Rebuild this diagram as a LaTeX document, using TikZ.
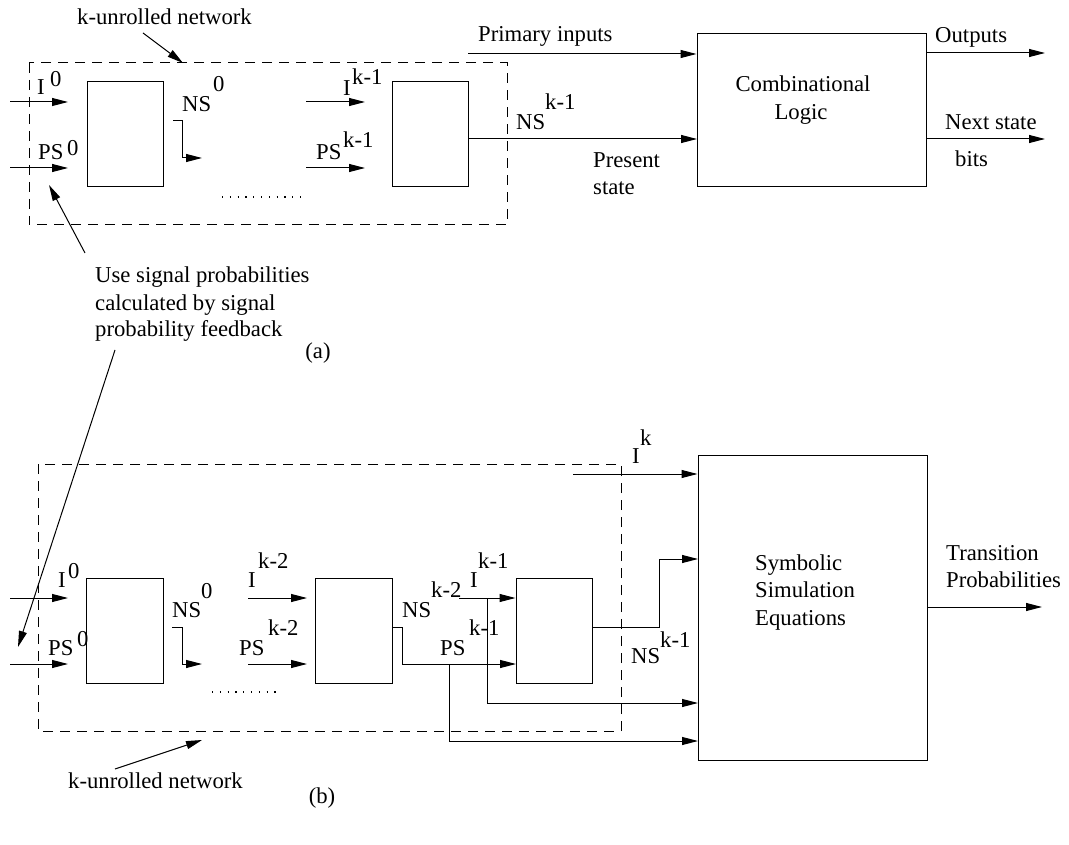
\documentclass[tikz,border=0pt]{standalone}
\usepackage{fontspec}
\setmainfont{Liberation Serif}
\usetikzlibrary{arrows.meta}
\begin{document}
\begin{tikzpicture}[x=1pt,y=-1pt,
  txt/.style={anchor=base west,inner sep=0pt,font=\fontsize{22.7}{27}\selectfont},
  txtc/.style={anchor=base,inner sep=0pt,font=\fontsize{22.7}{27}\selectfont},
  blk/.style={draw,line width=1pt,inner sep=0pt},
  conn/.style={line width=1pt},
  arr/.style={conn,-{Triangle[length=16pt,width=8pt]}},
  dbox/.style={line width=1pt,dash pattern=on 10pt off 7pt},
  dotl/.style={line width=1.2pt,dash pattern=on 1.2pt off 6.6pt}]
\useasboundingbox (0,0) rectangle (1069,845);

% ================= (a) =================
\draw[dbox] (29,63) rectangle (507,225);
\node[blk,minimum width=76pt,minimum height=105pt] (a1) at (125,134.5) {};
\node[blk,minimum width=76pt,minimum height=105pt] (a2) at (430,134.5) {};
\node[blk,minimum width=229pt,minimum height=153pt] (comb) at (811.5,110.5) {};

\node[txt] (ka) at (77,25) {k-unrolled network};
\coordinate (ka-s) at (143,33);
\coordinate (ka-e) at (183,63);
\draw[arr] (ka-s) -- (ka-e);

\coordinate (a-i0s) at (10,102);  \coordinate (a-i0e) at (68,102);
\coordinate (a-p0s) at (10,168);  \coordinate (a-p0e) at (68,168);
\draw[arr] (a-i0s) -- (a-i0e);
\draw[arr] (a-p0s) -- (a-p0e);
\node[txt] (a-I0) at (37,95) {I};
\node[txt] (a-I0s) at (50,87) {0};
\node[txt] (a-PS0) at (38,160) {PS};
\node[txt] (a-PS0s) at (67,156) {0};

\coordinate (a-n0s) at (173,121); \coordinate (a-n0e) at (202,158);
\draw[arr] (a-n0s) -- ++(9,0) |- (a-n0e);
\node[txt] (a-NS0) at (182,112) {NS};
\node[txt] (a-NS0s) at (213,92) {0};

\coordinate (a-d1) at (222,197); \coordinate (a-d2) at (302,197);
\draw[dotl] (a-d1) -- (a-d2);

\coordinate (a-iks) at (306,102); \coordinate (a-ike) at (365,102);
\coordinate (a-pks) at (306,168); \coordinate (a-pke) at (365,168);
\draw[arr] (a-iks) -- (a-ike);
\draw[arr] (a-pks) -- (a-pke);
\node[txt] (a-Ik) at (343,96) {I};
\node[txt] (a-Iks) at (352,85) {k-1};
\node[txt] (a-PSk) at (316,160) {PS};
\node[txt] (a-PSks) at (343,148) {k-1};

\coordinate (comb-ps) at (697,139);
\draw[arr] (a2.east |- comb-ps) -- (comb-ps);
\node[txt] (a-NSk) at (516,130) {NS};
\node[txt] (a-NSks) at (545,110) {k-1};
\node[txt] (pres1) at (593,168) {Present};
\node[txt] (pres2) at (593,195) {state};

\coordinate (pi-s) at (468,54);
\draw[arr] (pi-s) -- (comb.west |- pi-s);
\node[txt] (pi) at (478,42) {Primary inputs};

\node[txtc] (comb1) at (803,92) {Combinational};
\node[txtc] (comb2) at (801,120) {Logic};

\coordinate (out-e) at (1045,53);
\coordinate (ns-e) at (1045,139);
\draw[arr] (comb.east |- out-e) -- (out-e);
\draw[arr] (comb.east |- ns-e) -- (ns-e);
\node[txt] (outl) at (935,43) {Outputs};
\node[txt] (nsl1) at (945,130) {Next state};
\node[txt] (nsl2) at (955,167) {bits};

% annotation
\node[txt] (use1) at (95,283) {Use signal probabilities};
\node[txt] (use2) at (95,310) {calculated by signal};
\node[txt] (use3) at (95,337) {probability feedback};
\coordinate (up-s) at (85,253); \coordinate (up-e) at (49,185);
\draw[arr] (up-s) -- (up-e);
\coordinate (dn-s) at (115,350); \coordinate (dn-e) at (18,647);
\draw[arr] (dn-s) -- (dn-e);

\node[txtc] (capa) at (318,358) {(a)};

% ================= (b) =================
\draw[dbox] (38,464) rectangle (621,731);
\node[blk,minimum width=77pt,minimum height=105pt] (b1) at (124.5,630.5) {};
\node[blk,minimum width=77pt,minimum height=105pt] (b2) at (353.5,630.5) {};
\node[blk,minimum width=76pt,minimum height=105pt] (b3) at (554,630.5) {};
\node[blk,minimum width=229pt,minimum height=305pt] (sym) at (812.5,607.5) {};

\coordinate (b-i0s) at (10,598);  \coordinate (b-i0e) at (68,598);
\coordinate (b-p0s) at (10,664);  \coordinate (b-p0e) at (68,664);
\draw[arr] (b-i0s) -- (b-i0e);
\draw[arr] (b-p0s) -- (b-p0e);
\node[txt] (b-I0) at (58,587) {I};
\node[txt] (b-I0s) at (68,578) {0};
\node[txt] (b-PS0) at (48,655) {PS};
\node[txt] (b-PS0s) at (77,646) {0};

\coordinate (b-n0s) at (172,627); \coordinate (b-n0e) at (202,664);
\draw[arr] (b-n0s) -- ++(10,0) |- (b-n0e);
\node[txt] (b-NS0) at (172,617) {NS};
\node[txt] (b-NS0s) at (201,598) {0};

\coordinate (b-d1) at (212,692); \coordinate (b-d2) at (277,692);
\draw[dotl] (b-d1) -- (b-d2);

\coordinate (b-i2s) at (248,598); \coordinate (b-i2e) at (307,598);
\coordinate (b-p2s) at (248,664); \coordinate (b-p2e) at (307,664);
\draw[arr] (b-i2s) -- (b-i2e);
\draw[arr] (b-p2s) -- (b-p2e);
\node[txt] (b-I2) at (248,587) {I};
\node[txt] (b-I2s) at (258,568) {k-2};
\node[txt] (b-PS2) at (239,655) {PS};
\node[txt] (b-PS2s) at (268,635) {k-2};

% NS^{k-2} -> PS^{k-1}
\coordinate (b3-ps) at (516,664);
\coordinate (br-ps) at (449,664);
\draw[arr] (b2.east |- b-n0s) -- ++(10,0) |- (b3-ps);
\node[txt] (b-NS2) at (402,617) {NS};
\node[txt] (b-NS2s) at (431,597) {k-2};
\node[txt] (b-PS1) at (440,655) {PS};
\node[txt] (b-PS1s) at (469,635) {k-1};

% I^{k-1}
\coordinate (b-i1s) at (459,598);
\coordinate (br-i) at (487,598);
\draw[arr] (b-i1s) -- (b3.west |- b-i1s);
\node[txt] (b-I1) at (470,587) {I};
\node[txt] (b-I1s) at (478,568) {k-1};

% branches to symbolic box
\coordinate (sym-i1) at (698,703);
\coordinate (sym-p1) at (698,741);
\draw[arr] (br-i) |- (sym-i1);
\draw[arr] (br-ps) |- (sym-p1);

% I^k
\coordinate (b-iks) at (573,474);
\draw[arr] (b-iks) -- (sym.west |- b-iks);
\node[txt] (b-Ik) at (632,463) {I};
\node[txt] (b-Iks) at (640,445) {k};

% NS^{k-1}
\coordinate (sym-ns) at (698,559);
\draw[arr] (b3.east |- b-n0s) -- (659,627) |- (sym-ns);
\node[txt] (b-NSk) at (631,663) {NS};
\node[txt] (b-NSks) at (660,647) {k-1};

\node[txt] (sym1) at (755,570) {Symbolic};
\node[txt] (sym2) at (755,597) {Simulation};
\node[txt] (sym3) at (755,625) {Equations};

\coordinate (tp-e) at (1042,607);
\draw[arr] (sym.east |- tp-e) -- (tp-e);
\node[txt] (tp1) at (946,560) {Transition};
\node[txt] (tp2) at (946,587) {Probabilities};

\node[txt] (kb) at (68,788) {k-unrolled network};
\coordinate (kb-s) at (115,769); \coordinate (kb-e) at (202,740);
\draw[arr] (kb-s) -- (kb-e);

\node[txtc] (capb) at (322,803) {(b)};
\end{tikzpicture}
\end{document}
